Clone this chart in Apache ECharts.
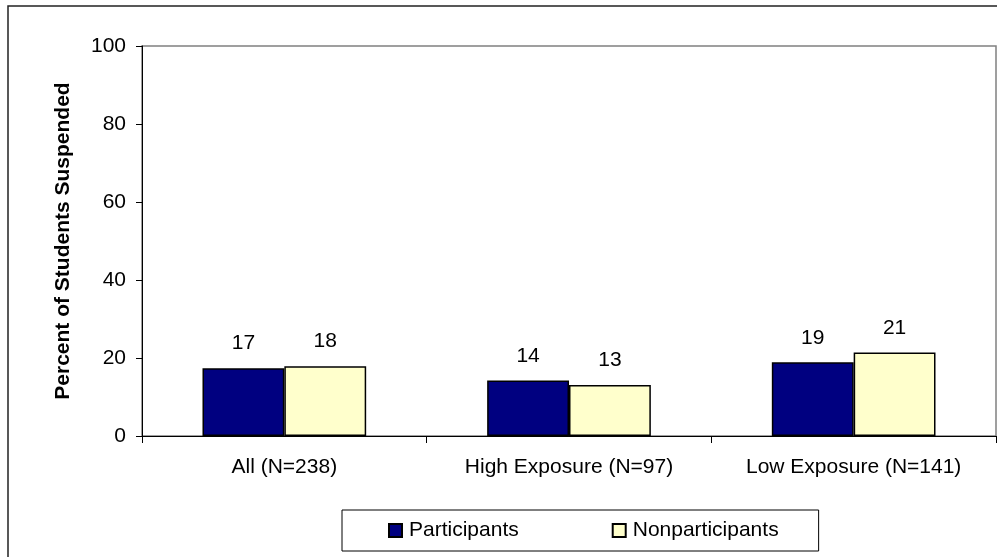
<!DOCTYPE html>
<html>
<head>
<meta charset="utf-8">
<script src="https://cdn.jsdelivr.net/npm/echarts@6/dist/echarts.min.js"></script>
<style>
html,body{margin:0;padding:0;background:#fff;}
#chart{width:997px;height:557px;}
</style>
</head>
<body>
<div id="chart"></div>
<script>
const categories = ['All (N=238)', 'High Exposure (N=97)', 'Low Exposure (N=141)'];
const participants = [17.4, 14.2, 18.9];
const nonparticipants = [17.9, 13.1, 21.4];
const participantLabels = ['17', '14', '19'];
const nonparticipantLabels = ['18', '13', '21'];
const yTicks = [0, 20, 40, 60, 80, 100];

const font = 'Liberation Sans, Arial, sans-serif';
const FS = 21;
const chart = echarts.init(document.getElementById('chart'), null, {renderer: 'canvas'});

function labelFor(arr) {
  return {
    show: true, position: 'top', distance: 14,
    color: '#000', fontFamily: font, fontSize: FS,
    formatter: p => arr[p.dataIndex]
  };
}

chart.setOption({
  animation: false,
  backgroundColor: '#fff',
  graphic: [{
    type: 'rect', silent: true,
    shape: {x: 8, y: 6, width: 1000, height: 600},
    style: {fill: 'none', stroke: '#222', lineWidth: 1.5}
  }],
  grid: {
    left: 142, right: 1, top: 46, bottom: 121,
    show: true, borderColor: '#808080', borderWidth: 1.5, backgroundColor: 'transparent'
  },
  legend: {
    left: 342, top: 510,
    padding: [10, 40, 10, 46],
    itemGap: 93,
    itemWidth: 13, itemHeight: 13,
    icon: 'rect',
    borderColor: '#000', borderWidth: 1,
    textStyle: {fontFamily: font, fontSize: FS, color: '#000', padding: [0, 0, 0, 2]},
    data: ['Participants', 'Nonparticipants']
  },
  xAxis: {
    type: 'category', data: categories,
    axisLine: {lineStyle: {color: '#000', width: 1}},
    axisTick: {show: true, alignWithLabel: false, length: 7, lineStyle: {color: '#000'}},
    axisLabel: {fontFamily: font, fontSize: FS, color: '#000', margin: 21}
  },
  yAxis: {
    type: 'value', min: yTicks[0], max: yTicks[yTicks.length - 1], interval: 20,
    name: 'Percent of Students Suspended',
    nameLocation: 'middle', nameGap: 68,
    nameTextStyle: {fontFamily: font, fontSize: FS, fontWeight: 'bold', color: '#000'},
    axisLine: {show: true, lineStyle: {color: '#000', width: 1}},
    axisTick: {show: true, length: 6, lineStyle: {color: '#000'}},
    axisLabel: {fontFamily: font, fontSize: FS, color: '#000', margin: 16},
    splitLine: {show: false}
  },
  series: [{
    name: 'Participants', type: 'bar', data: participants,
    barGap: '0%', barCategoryGap: '42.5%',
    itemStyle: {color: '#000080', borderColor: '#000', borderWidth: 1.5},
    label: labelFor(participantLabels)
  }, {
    name: 'Nonparticipants', type: 'bar', data: nonparticipants,
    itemStyle: {color: '#FFFFCC', borderColor: '#000', borderWidth: 1.5},
    label: labelFor(nonparticipantLabels)
  }]
});
</script>
</body>
</html>
